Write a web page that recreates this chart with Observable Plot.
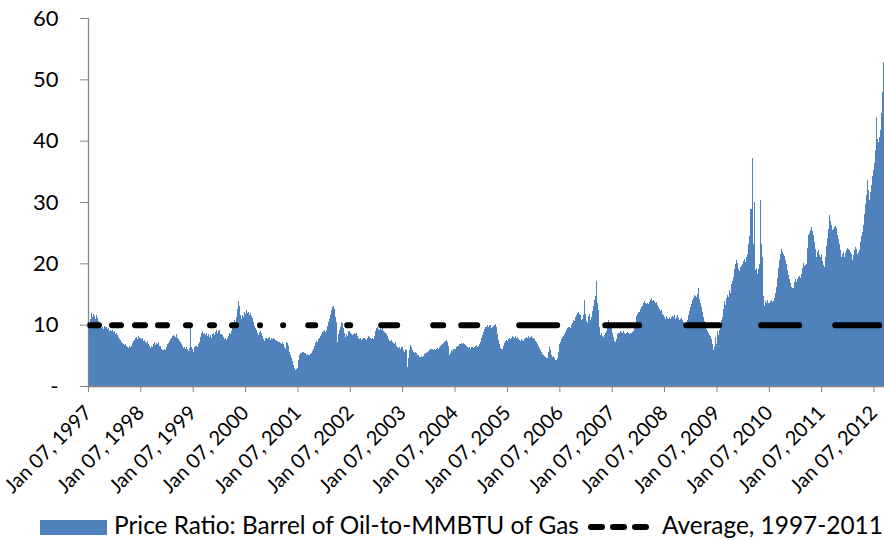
<!DOCTYPE html>
<html>
<head>
<meta charset="utf-8">
<script src="https://cdn.jsdelivr.net/npm/d3@7"></script>
<script src="https://cdn.jsdelivr.net/npm/@observablehq/plot@0.6"></script>
<style>
  html, body { margin: 0; padding: 0; background: #fff; }
  #chart { position: relative; width: 884px; height: 541px; font-family: Lato, "Open Sans", sans-serif; }
  .legend { position: relative; width: 884px; height: 35px; }
  .legend .txt { position: absolute; top: 5px; font-size: 24.4px; line-height: 28px; color: #000; white-space: nowrap; }
</style>
</head>
<body>
<div id="chart"></div>
<script>
// Weekly price ratio: barrel of oil / MMBTU of gas (weeks from Jan 07, 1997)
const w1997 = [8.6,9.5,10.9,11.9, 11.2,11.7,11.4,11.0, 11.5,11.1,10.6,10.1,9.8, 9.4,9.7,9.3,9.8, 9.6,9.7,9.3,9.5, 9.0,9.2,8.9,9.1,8.8, 8.9,8.5,8.6,8.3, 8.0,7.7,7.5,7.2, 7.0,6.9,6.7,6.8,6.5, 6.4,6.2,6.5,6.3, 6.6,7.0,7.3,7.5, 7.8,8.0,7.7,8.1,7.9];
const w1998 = [7.8,7.6,7.9,7.4, 7.5,7.2,7.0,7.3, 6.8,6.5,6.2,6.6,6.4, 6.9,7.1,6.7,7.0, 6.9,7.2,6.6,6.5, 6.1,5.9,5.8,6.0,5.9, 6.3,6.8,7.0,7.3, 7.6,7.9,8.1,8.3, 8.2,8.0,8.4,7.8,7.6, 7.4,7.1,6.8,6.5, 6.2,6.3,6.0,6.4, 6.1,5.7,6.2,10.0,6.3];
const w1999 = [6.0,5.6,6.3,6.6, 6.5,6.4,6.8,7.2, 8.0,8.6,8.9,8.4,8.7, 8.3,8.6,8.2,8.5, 8.0,8.3,7.9,8.4, 8.6,8.3,8.8,9.1,8.6, 8.9,9.2,8.5,8.3, 8.0,7.6,7.8,7.5, 7.9,8.2,8.6,8.4,9.0, 9.6,10.3,10.8,10.1, 11.2,12.5,13.8,13.0, 11.6,11.0,11.5,11.2,12.0];
const w2000 = [11.8,12.4,11.9,12.1, 11.6,11.9,11.4,11.1, 10.4,9.8,9.5,9.2,8.6, 8.3,8.8,8.9,8.6, 8.2,7.6,7.3,7.8, 7.9,7.6,7.8,8.0,7.5, 7.8,7.7,7.9,7.6, 7.5,7.3,7.4,7.1, 7.2,7.0,6.9,7.1,6.8, 6.3,6.1,7.2,7.0, 6.6,5.6,5.0,4.6, 4.0,3.4,2.9,2.6,2.8];
const w2001 = [3.0,4.2,5.0,5.4, 5.3,5.6,5.5,5.4, 5.3,5.0,5.2,5.1,5.0, 5.2,5.4,5.7,6.0, 6.5,7.0,7.3,7.2, 7.6,7.9,8.2,8.5,8.8, 8.9,9.1,8.8,9.2, 9.8,10.5,10.9,11.5, 12.4,12.8,13.0,12.5,11.2, 10.5,7.2,8.5,9.1, 9.6,10.5,10.2,9.4, 8.6,8.0,8.4,8.2,8.9];
const w2002 = [8.9,8.7,8.4,8.3,8.5, 8.6,8.4,8.7,8.2, 7.9,7.6,7.8,7.5, 7.6,7.8,7.9,7.7,7.5, 7.9,8.1,8.0,7.8, 7.7,7.9,7.6,8.2, 9.0,9.4,9.6,9.3,9.1, 9.4,9.2,9.5,9.0, 8.8,8.6,8.4,8.1, 7.6,7.4,7.3,7.5,7.1, 7.0,6.9,7.1,6.6, 6.4,6.2,6.4,6.1,6.3];
const w2003 = [6.3,5.9,5.6,6.1, 5.8,3.1,4.6,5.9, 6.7,6.3,5.8,5.6,5.4, 5.6,5.3,5.0,5.1, 4.8,4.7,4.9,4.8, 4.9,5.2,5.4,5.3,5.5, 5.7,5.9,6.0,6.1, 6.1,5.9,6.0,5.9, 6.0,6.2,6.1,6.4,6.6, 6.7,6.8,7.0,7.2, 7.4,7.5,7.2,6.6, 5.0,5.4,5.9,5.7,6.0];
const w2004 = [6.0,6.1,6.3,6.5, 6.6,6.9,6.8,7.0, 6.9,7.0,6.8,6.7,6.6, 6.4,6.2,6.4,6.1, 6.3,6.4,6.2,6.3, 6.5,6.7,6.4,6.6,6.8, 7.2,7.8,8.3,8.8, 9.3,9.7,10.0,9.6, 9.9,10.0,9.4,9.6,9.8, 10.0,10.1,9.6,8.4, 7.5,6.8,6.2,6.0, 6.1,6.5,7.0,7.3,7.5];
const w2005 = [7.4,7.6,7.8,7.7, 7.9,8.1,8.0,7.8, 8.1,7.9,8.0,7.7,7.5, 7.4,7.6,7.5,7.3, 7.6,7.8,8.0,7.9, 8.1,7.9,8.0,8.2,7.9, 7.8,7.6,7.4,7.1, 6.8,6.5,6.2,5.9, 5.5,5.2,5.0,4.9,4.7, 4.5,4.6,5.6,6.4, 5.8,5.0,4.8,4.9, 4.6,4.3,4.2,4.5,5.5];
const w2006 = [6.8,7.2,7.7,8.0, 8.1,8.4,8.8,9.2, 9.4,9.6,9.7,9.5,9.9, 10.3,10.8,10.6,11.2, 11.6,11.9,12.1,11.8, 11.5,10.8,11.0,11.6,14.0, 11.8,10.6,10.2,11.4, 11.8,10.8,11.2,12.2, 13.0,14.0,14.6,17.2,13.6, 12.4,9.6,8.3,8.6, 8.2,8.0,8.3,8.6, 8.9,9.6,10.8,10.2,9.8];
const w2007 = [9.7,8.6,8.0,7.3, 7.2,7.6,8.4,8.6, 8.7,8.9,8.8,8.6,8.9, 8.7,8.5,8.6,8.8, 8.6,8.5,8.7,8.6, 8.8,9.0,9.4,9.8,11.4, 11.8,12.1,12.0,12.5, 12.8,13.1,13.6,13.9, 13.5,13.4,13.6,13.4,13.7, 14.0,14.3,13.8,14.1, 13.9,13.5,13.7,13.2, 12.9,12.6,12.2,12.4,11.8];
const w2008 = [11.6,11.2,11.0,11.4,11.1, 11.0,11.3,10.9,11.2, 11.4,11.2,11.5,11.0, 11.2,11.6,11.1,10.8,11.0, 11.1,10.8,10.5,10.2, 9.8,10.4,10.8,11.6, 12.2,12.8,13.4,14.0,14.3, 14.8,14.6,14.5,15.0, 15.9,14.2,13.6,12.8, 12.0,11.2,10.6,10.0,9.3, 8.9,8.6,8.3,8.1, 7.6,6.9,5.9,6.4,8.0];
const w2009 = [6.9,8.9,8.3,9.2, 9.8,10.8,11.3,12.5, 13.8,13.2,14.3,14.8,14.5, 15.6,15.2,16.7,17.2, 17.8,19.0,19.9,20.5, 20.0,19.1,18.8,19.4,19.6, 19.9,20.4,20.7,20.2, 21.1,21.6,23.2,24.5, 28.9,37.2,23.2,30.0,18.9, 19.3,18.3,19.0,19.9, 30.3,23.2,21.0,14.6, 13.0,13.8,13.5,14.0,13.6];
const w2010 = [13.5,13.8,14.0,13.7,13.9,14.4,15.2,16.2,17.6,19.2, 20.6,21.6,22.4,21.9,21.5,21.2,20.6,19.9,18.9,18.1, 17.5,16.8,16.2,16.0,15.9,17.0,17.4,17.0,17.5,17.8, 17.9,17.6,18.3,19.2,20.0,19.6,19.7,19.9,22.5,24.6, 25.0,25.4,25.9,25.2,24.6,23.5,22.4,21.1,21.8,22.2, 21.4,21.0];
const w2011 = [21.5,20.3,19.8,19.4,21.0,22.8,24.2,25.6,27.8,26.9, 26.2,25.4,25.6,25.9,26.1,25.7,24.6,24.0,23.2,22.1, 21.0,21.5,21.8,21.1,21.7,22.2,22.5,22.3,22.2,21.9, 21.5,20.6,21.3,22.2,22.6,22.4,21.5,21.9,22.2,23.4, 24.5,25.1,26.2,28.0,29.6,31.2,33.6,32.0,30.4,31.6, 32.8,34.3];
const w2012 = [35.2,36.4,38.5,43.9,40.2,39.8,40.6,41.8,44.5,48.0,52.8];

const averageValue = 10;           // Average, 1997-2011
const yTicks = [0, 10, 20, 30, 40, 50, 60];
const tickYears = [1997,1998,1999,2000,2001,2002,2003,2004,2005,2006,2007,2008,2009,2010,2011,2012];
const seriesName = "Price Ratio: Barrel of Oil-to-MMBTU of Gas";
const averageName = "Average, 1997-2011";

const weekly = [].concat(w1997,w1998,w1999,w2000,w2001,w2002,w2003,w2004,w2005,w2006,w2007,w2008,w2009,w2010,w2011,w2012);
const DAY = 864e5;
const start = new Date(Date.UTC(1997, 0, 7));
const data = weekly.map((v, i) => ({
  date: new Date(start.getTime() + i * 7 * DAY),
  end: new Date(start.getTime() + (i + 1) * 7 * DAY),
  value: v
}));
const xEnd = data[data.length - 1].end;
const tickDates = tickYears.map(y => new Date(Date.UTC(y, 0, 7)));
const fmt = d3.utcFormat("%b %d, %Y");
const axisGray = "#868686";
// irregular dash rhythm of the average line, as in the original
const dash = "9,13,9,14,10,13,9,19,4,20,4,18,4,24,0.1,23,0.1,25,7,32,3,31,16,36,10,18,16,42,38,48,34,47,33,42,38,36,44,1000";

const plot = Plot.plot({
  width: 884,
  height: 506,
  marginLeft: 88,
  marginRight: 0,
  marginTop: 18,
  marginBottom: 120,
  style: { fontFamily: "Lato, 'Open Sans', sans-serif", background: "white", color: "black", overflow: "visible" },
  x: { type: "utc", domain: [start, xEnd], label: null },
  y: { domain: [0, 60], label: null },
  marks: [
    Plot.rect(data, { x1: "date", x2: "end", y1: 0, y2: "value", fill: "#4F81BD", shapeRendering: "crispEdges" }),
    Plot.ruleX([start], { y1: 0, y2: 60, stroke: axisGray, strokeWidth: 1.3 }),
    Plot.ruleY([0], { stroke: axisGray, strokeWidth: 1.3 }),
    Plot.ruleY([averageValue], {
      x1: () => start, x2: () => xEnd,
      stroke: "black", strokeWidth: 6, strokeLinecap: "round",
      strokeDasharray: dash, strokeDashoffset: -2
    }),
    Plot.axisY({
      ticks: yTicks, tickFormat: d => d === 0 ? "-" : String(d),
      tickSize: 8, tickPadding: 22, fontSize: 22,
      stroke: axisGray, fill: "black", label: null
    }),
    Plot.axisX({
      ticks: tickDates, tickFormat: fmt, tickRotate: -45,
      tickSize: 6, tickPadding: 17, fontSize: 20,
      stroke: axisGray, fill: "black", label: null
    })
  ]
});

const chart = document.getElementById("chart");
chart.appendChild(plot);

const legend = document.createElement("div");
legend.className = "legend";
legend.innerHTML = `
  <div style="position:absolute;left:40px;top:14px;width:67px;height:15px;background:#4F81BD"></div>
  <span class="txt" style="left:114px">${seriesName}</span>
  <svg style="position:absolute;left:585px;top:15px" width="66" height="12">
    <line x1="6" x2="61" y1="6" y2="6" stroke="black" stroke-width="6" stroke-linecap="round" stroke-dasharray="11,11"/>
  </svg>
  <span class="txt" style="left:662px">${averageName}</span>`;
chart.appendChild(legend);
</script>
</body>
</html>
